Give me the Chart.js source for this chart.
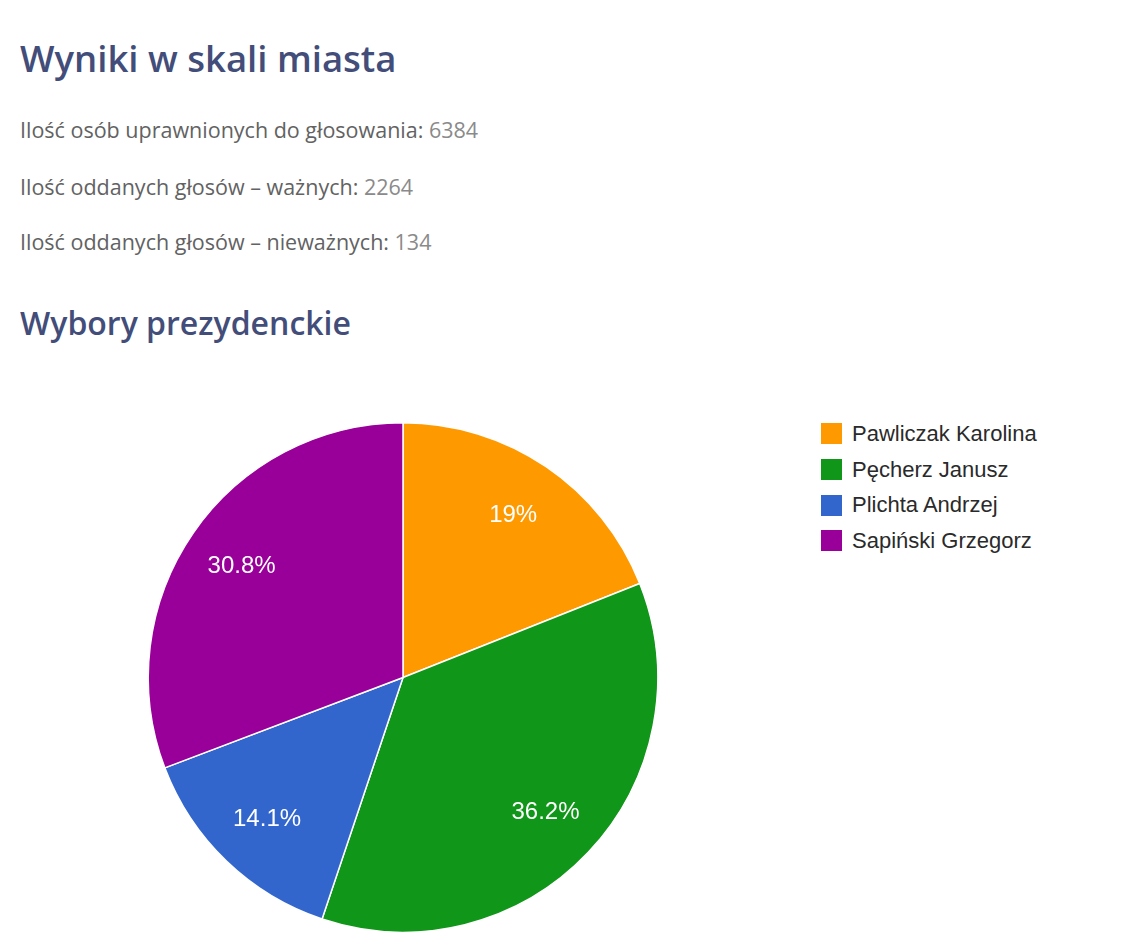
<!DOCTYPE html>
<html lang="pl">
<head>
<meta charset="utf-8">
<title>Wyniki w skali miasta</title>
<script src="https://cdn.jsdelivr.net/npm/chart.js@4"></script>
<style>
    html, body { margin: 0; padding: 0; background: #fff; }
    body { width: 1140px; height: 936px; position: relative; overflow: hidden; font-family: 'Open Sans', sans-serif; }
    .h { position: absolute; left: 20px; margin: 0; color: #434d79; font-weight: 600; line-height: 1; white-space: nowrap; }
    #title1 { top: 40px; font-size: 36.5px; }
    #title2 { top: 307px; font-size: 32px; }
    .stat { position: absolute; left: 20px; font-size: 21.5px; line-height: 1; color: #626262; white-space: nowrap; }
    .stat span { color: #8a8a8a; }
    #pieWrap { position: absolute; left: 0; top: 422px; width: 806px; height: 511px; }
    #legend { position: absolute; left: 821px; top: 416px; font-family: 'Liberation Sans', Arial, sans-serif; font-size: 22px; color: #2a2a2a; }
    #legend .item { display: flex; align-items: center; height: 35.7px; }
    #legend .box { width: 21px; height: 21px; margin-right: 10px; }
</style>
</head>
<body>
<h1 class="h" id="title1">Wyniki w skali miasta</h1>
<div class="stat" id="stat0"></div>
<div class="stat" id="stat1"></div>
<div class="stat" id="stat2"></div>
<h2 class="h" id="title2">Wybory prezydenckie</h2>
<div id="pieWrap"><canvas id="pieChart" width="806" height="511"></canvas></div>
<div id="legend"></div>

<script>
// header numbers
const statLabels = ['Ilość osób uprawnionych do głosowania:', 'Ilość oddanych głosów – ważnych:', 'Ilość oddanych głosów – nieważnych:'];
const statValues = [6384, 2264, 134];

// pie data (percent of valid votes)
const candidates = ['Pawliczak Karolina', 'Pęcherz Janusz', 'Plichta Andrzej', 'Sapiński Grzegorz'];
const shares = [19, 36.2, 14.1, 30.8];
const colors = ['#ff9900', '#109618', '#3366cc', '#990099'];

const statTops = [119, 176, 231];
statLabels.forEach((label, i) => {
    const el = document.getElementById('stat' + i);
    el.style.top = statTops[i] + 'px';
    el.innerHTML = `${label} <span>${statValues[i]}</span>`;
});

const legend = document.getElementById('legend');
candidates.forEach((name, i) => {
    const row = document.createElement('div');
    row.className = 'item';
    row.innerHTML = `<span class="box" style="background:${colors[i]}"></span><span>${name}</span>`;
    legend.appendChild(row);
});

// percentage labels inside the slices
const sliceLabels = {
    id: 'sliceLabels',
    afterDatasetsDraw(chart) {
        const { ctx } = chart;
        const meta = chart.getDatasetMeta(0);
        ctx.save();
        ctx.fillStyle = '#ffffff';
        ctx.font = '24px "Liberation Sans", Arial, sans-serif';
        ctx.textAlign = 'center';
        ctx.textBaseline = 'middle';
        meta.data.forEach((arc, i) => {
            const mid = (arc.startAngle + arc.endAngle) / 2;
            const r = arc.outerRadius * 0.77;
            const x = arc.x + Math.cos(mid) * r;
            const y = arc.y + Math.sin(mid) * r;
            ctx.fillText(`${shares[i]}%`, x, y);
        });
        ctx.restore();
    }
};

new Chart(document.getElementById('pieChart').getContext('2d'), {
    type: 'pie',
    data: {
        labels: candidates,
        datasets: [{
            data: shares,
            backgroundColor: colors,
            borderColor: '#ffffff',
            borderWidth: 1.5
        }]
    },
    options: {
        responsive: false,
        animation: false,
        layout: { padding: 0 },
        plugins: {
            legend: { display: false },
            tooltip: { enabled: false }
        }
    },
    plugins: [sliceLabels]
});
</script>
</body>
</html>
